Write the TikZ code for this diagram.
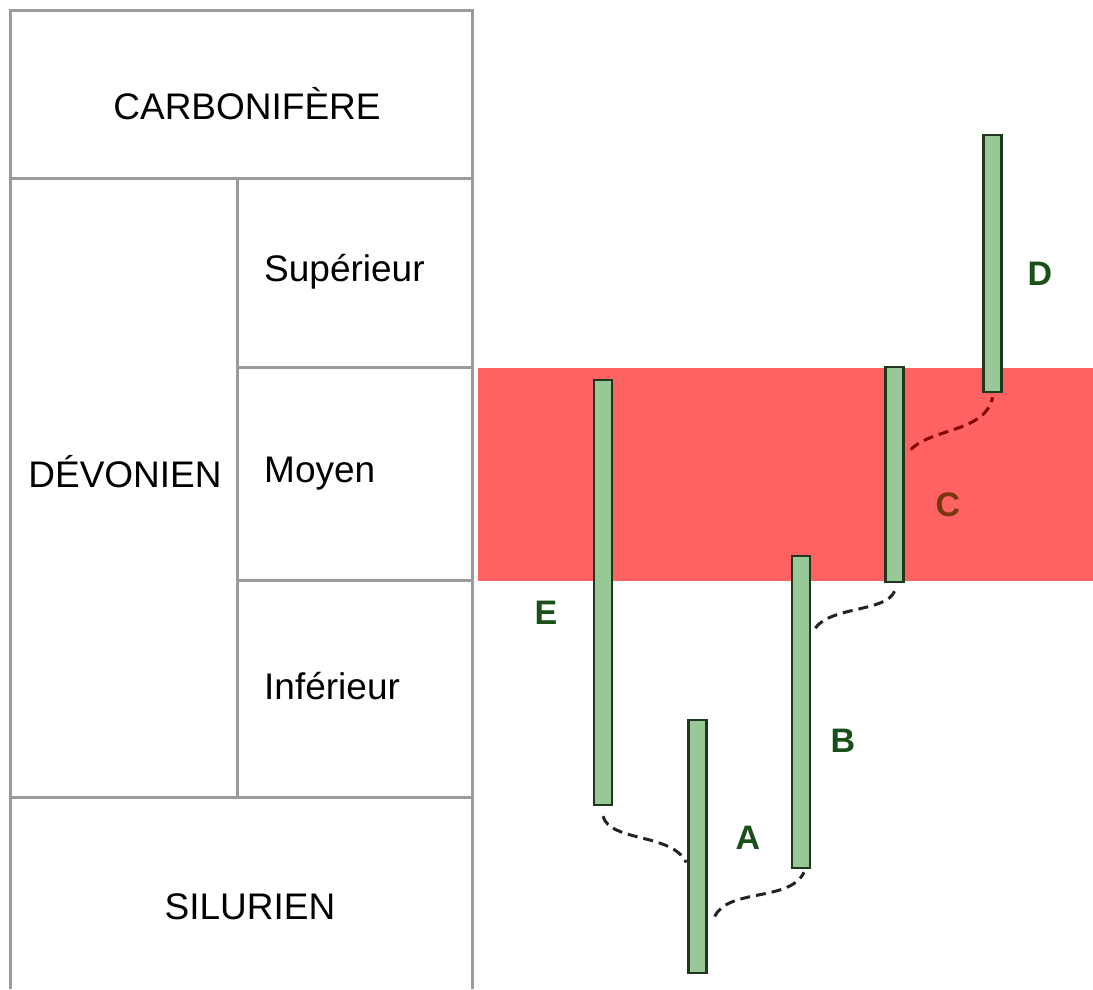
\documentclass[tikz,border=0pt]{standalone}
\usepackage{fontspec}
\setmainfont{Liberation Sans}
\usetikzlibrary{calc}
\definecolor{gridgray}{RGB}{155,155,155}
\definecolor{bandred}{RGB}{255,98,98}
\definecolor{barfill}{RGB}{152,200,150}
\definecolor{bardraw}{RGB}{30,55,30}
\definecolor{labgreen}{RGB}{25,80,25}
\definecolor{labbrown}{RGB}{120,55,15}
\definecolor{dashdark}{RGB}{35,35,35}
\definecolor{dashred}{RGB}{130,0,0}
\tikzset{
  grid/.style={draw=gridgray, line width=3pt},
  era/.style={font=\fontsize{37}{40}\selectfont, text=black, inner sep=0pt},
  sub/.style={font=\fontsize{37}{40}\selectfont, text=black, inner sep=0pt, anchor=west},
  bar/.style={draw=bardraw, fill=barfill, line width=2.5pt, minimum width=18pt, inner sep=0pt},
  lab/.style={font=\bfseries\fontsize{34}{36}\selectfont, text=labgreen, inner sep=0pt},
  link/.style={draw=dashdark, line width=3pt, dash pattern=on 10pt off 6pt},
}
\begin{document}
\begin{tikzpicture}[x=1pt,y=-1pt]
\useasboundingbox (0,0) rectangle (1093,989);
\fill[white] (0,0) rectangle (1093,989);
% red band
\fill[bandred] (478,368) rectangle (1093,581);
% table
\draw[grid] (10,989) -- (10,10) -- (472,10) -- (472,989);
\draw[grid] (10,178) -- (472,178);
\draw[grid] (10,797) -- (472,797);
\draw[grid] (237,178) -- (237,797);
\draw[grid] (237,367) -- (472,367);
\draw[grid] (237,580) -- (472,580);
\node[era] (carb) at (247,104) {CARBONIFÈRE};
\node[era] (dev) at (125,472) {DÉVONIEN};
\node[sub] (sup) at (264,272) {Supérieur};
\node[sub] (moy) at (264,474) {Moyen};
\node[sub] (inf) at (264,686) {Inférieur};
\node[era] (sil) at (250,907) {SILURIEN};
% bars
\node[bar, minimum height=425pt] (E) at (603,592.5) {};
\node[bar, minimum height=253pt] (A) at (697.5,846.5) {};
\node[bar, minimum height=312pt] (B) at (801,712) {};
\node[bar, minimum height=215pt] (C) at (894.5,474.5) {};
\node[bar, minimum height=257pt] (D) at (992.5,263.5) {};
% labels
\node[lab] (lE) at (546,613) {E};
\node[lab] (lA) at (748,838) {A};
\node[lab] (lB) at (843,741) {B};
\node[lab, text=labbrown] (lC) at (948,505) {C};
\node[lab] (lD) at (1040,274) {D};
% connectors
\draw[link] ([yshift=-10pt]E.south) .. controls (610,842) and (672,833) .. ([xshift=-1pt,yshift=-16pt]A.west);
\draw[link] ([xshift=7pt,yshift=-70pt]A.east) .. controls (728,888) and (790,902) .. ([xshift=3pt,yshift=-3pt]B.south);
\draw[link] ([xshift=4pt,yshift=84pt]B.east) .. controls (832,606) and (886,612) .. ([yshift=-8pt]C.south);
\draw[link, draw=dashred] ([xshift=6pt,yshift=25pt]C.east) .. controls (932,428) and (986,432) .. ([yshift=-4pt]D.south);
\end{tikzpicture}
\end{document}
